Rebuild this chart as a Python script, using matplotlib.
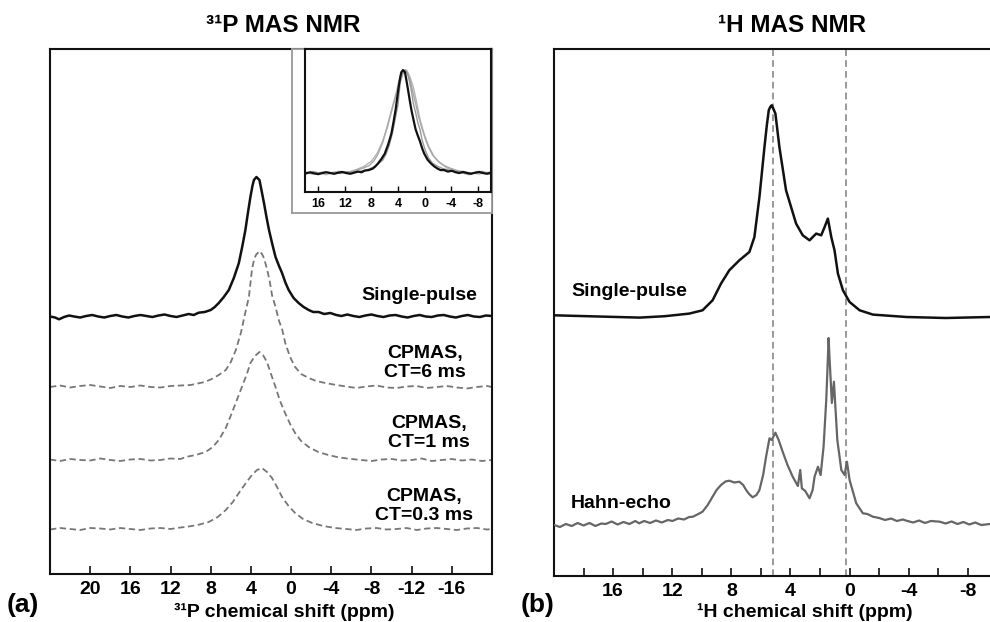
import matplotlib
matplotlib.use("Agg")
import matplotlib.pyplot as plt
import numpy as np

plt.rcParams['font.family'] = ['Liberation Sans', 'DejaVu Sans']
plt.rcParams['font.weight'] = 'bold'

# ---------------- data ----------------
# Panel (a): 31P spectra, (ppm, intensity above own baseline)
p31_single = [(24, -0.5), (23.5, -1.5), (23.1, -3.3), (22.6, -1), (22.1, 0.5), (21.6, -0.5), (21.0, -1.5),
              (20.4, 0), (19.8, 1), (19.2, -0.5), (18.6, -1.5), (18.0, 0), (17.4, 1), (16.8, -0.5),
              (16.2, -1.5), (15.6, 0), (15.0, 1), (14.4, 0), (13.8, -1), (13.2, 0.5), (12.6, 1.5),
              (12.0, 0), (11.4, -1), (10.8, 0.5), (10.2, 2), (9.7, 1), (9.2, 3.3), (8.6, 4), (8.0, 6),
              (7.6, 9), (7.2, 13), (6.7, 19), (6.2, 26), (5.7, 38), (5.2, 53), (4.85, 70), (4.55, 86),
              (4.3, 103), (4.05, 119), (3.85, 130), (3.7, 136), (3.45, 139), (3.15, 136), (2.95, 126),
              (2.7, 113), (2.45, 99), (2.2, 86), (1.85, 71), (1.55, 59), (1.2, 50), (0.9, 43), (0.55, 33),
              (0.24, 26), (-0.25, 18), (-0.75, 13), (-1.25, 9), (-1.75, 6), (-2.2, 4), (-2.74, 4),
              (-3.3, 2), (-3.9, 3), (-4.5, 1), (-5.0, 0), (-5.6, 1.5), (-6.2, 0), (-6.8, -1), (-7.4, 0.5),
              (-8.0, 1.5), (-8.6, 0), (-9.2, -1), (-9.8, 0.5), (-10.4, 1), (-11, -0.5), (-11.6, -1.5),
              (-12.2, 0), (-12.8, 1), (-13.4, -0.5), (-14.0, -1), (-14.6, 0.5), (-15.2, 1), (-15.8, -0.5),
              (-16.4, -1.5), (-17.0, 0), (-17.6, 1), (-18.2, -0.5), (-18.8, -1), (-19.4, 0.5), (-20, 0)]

p31_ct6 = [(24, 0), (23, 1.5), (22, -0.5), (21, 1), (20, 2), (19, 0.5), (18, -1), (17, 1), (16, 0),
           (15, 1.5), (14, 0), (13, -0.5), (12, 1), (11, 1.5), (10, 2), (9.2, 3.7), (8.6, 5), (7.9, 8),
           (7.2, 12), (6.5, 17), (6.0, 25), (5.5, 37), (5.0, 54), (4.5, 77), (4.2, 90), (3.9, 117),
           (3.7, 127), (3.5, 132), (3.15, 136), (2.9, 133), (2.7, 129), (2.4, 118), (2.15, 107),
           (1.9, 92), (1.55, 80), (1.2, 66), (0.9, 58), (0.58, 44), (0.1, 30), (-0.4, 20), (-1.0, 13),
           (-1.75, 9), (-2.5, 6), (-3.4, 4), (-4.5, 2), (-5.5, 0.5), (-6.5, -1), (-7.5, 0.5), (-8.5, 1.5),
           (-9.5, -0.5), (-10.5, -1), (-11.5, 0.5), (-12.5, 1), (-13.5, -1), (-14.5, 0), (-15.5, 1),
           (-16.5, -0.5), (-17.5, -1.5), (-18.5, 0), (-19.5, 1), (-20, 0)]

p31_ct1 = [(24, 0.5), (23, -1), (22, 1), (21, 0), (20, -0.5), (19, 1.5), (18, 0), (17, -1), (16, 0.5),
           (15, 1), (14, -0.5), (13, 0), (12, 1.5), (11, 1), (10.5, 3), (9.5, 5), (8.5, 8), (7.8, 13),
           (7.2, 20), (6.5, 32), (5.9, 47), (5.4, 60), (4.9, 73), (4.4, 86), (4.05, 97), (3.6, 104),
           (3.15, 108), (2.8, 105), (2.4, 98), (2.0, 86), (1.55, 73), (1.1, 59), (0.6, 47), (0.1, 36),
           (-0.4, 27), (-1.0, 19), (-1.75, 13), (-2.7, 8), (-3.7, 5), (-4.8, 2.5), (-6, 1), (-7, 0),
           (-8, -1), (-9, 0.5), (-10, 1), (-11, -0.5), (-12, 0), (-13, 1.5), (-14, -1), (-15, 0),
           (-16, 1), (-17, -0.5), (-18, 0.5), (-19, -1), (-20, 0)]

p31_ct03 = [(24, -0.5), (23, 1), (22, 0), (21, -1), (20, 1), (19, 0.5), (18, -0.5), (17, 1), (16, 0),
            (15, -1), (14, 0.5), (13, 1), (12, 0), (11, 1.5), (10.5, 2), (9.3, 4), (8.2, 7), (7.3, 12),
            (6.5, 19), (5.8, 27), (5.2, 36), (4.5, 46), (3.9, 54), (3.4, 59), (2.9, 61), (2.4, 57),
            (1.9, 51), (1.4, 42), (0.9, 32), (0.25, 23), (-0.4, 16), (-1.2, 10), (-2.1, 6), (-3.2, 3),
            (-4.4, 1), (-5.5, 0), (-6.5, -1), (-7.5, 0.5), (-8.5, 1), (-9.5, -0.5), (-10.5, 0),
            (-11.5, 1), (-12.5, -1), (-13.5, 0.5), (-14.5, 1), (-15.5, 0), (-16.5, -1), (-17.5, 0.5),
            (-18.5, 1), (-19.5, -0.5), (-20, 0)]

p31_offsets = [258, 187, 114, 45]
p31_labels = ["Single-pulse", "CPMAS,\nCT=6 ms", "CPMAS,\nCT=1 ms", "CPMAS,\nCT=0.3 ms"]
p31_ticks = [20, 16, 12, 8, 4, 0, -4, -8, -12, -16]
p31_ticklabels = ["20", "16", "12", "8", "4", "0", "-4", "-8", "-12", "-16"]
inset_ticks = [16, 12, 8, 4, 0, -4, -8]
inset_ticklabels = ["16", "12", "8", "4", "0", "-4", "-8"]

# Panel (b): 1H spectra
h1_single = [(20, 1.7), (17, 0.5), (14.2, -0.6), (12.5, 0.8), (10.85, 3.4), (9.95, 6.7), (9.27, 16.7),
             (8.7, 33.4), (8.14, 46.7), (7.46, 56.7), (6.78, 65), (6.44, 80), (6.1, 120), (5.76, 170),
             (5.6, 191.7), (5.47, 206.7), (5.37, 210), (5.27, 211.7), (5.15, 208), (5.02, 203.4),
             (4.75, 170), (4.3, 126.7), (3.62, 93.4), (3.17, 81.7), (2.71, 76.7), (2.26, 83.4),
             (1.92, 81.7), (1.69, 90), (1.47, 98.4), (1.24, 80), (1.02, 66.7), (0.79, 43.4), (0.45, 26.7),
             (0.0, 15), (-0.68, 6.7), (-1.58, 2.4), (-3.85, 0), (-6.5, -1), (-9.5, 0)]

h1_hahn = [(20, -1), (19.6, -3), (19.2, 0), (18.8, -2), (18.4, 1), (18.0, -1.5), (17.6, 1), (17.2, -2),
           (16.8, 0.5), (16.5, 0), (16.1, 2.5), (15.7, -0.5), (15.3, 2), (14.9, 0), (14.5, 3), (14.24, 0.7),
           (13.9, 3), (13.5, 1), (13.1, 3.5), (12.7, 1.5), (12.3, 4), (11.98, 3), (11.6, 5.5), (11.2, 4.5),
           (10.85, 7), (10.6, 7.3), (10.3, 9.5), (9.95, 12.3), (9.6, 19), (9.27, 27.3), (9.0, 34),
           (8.7, 39), (8.4, 42.5), (8.14, 43.3), (7.8, 41.5), (7.46, 42.3), (7.2, 39), (7.0, 34),
           (6.8, 30), (6.56, 26.7), (6.3, 29), (6.1, 34), (5.85, 49), (5.65, 67.3), (5.42, 85.7),
           (5.27, 84), (5.02, 91.3), (4.8, 84), (4.53, 72.3), (4.2, 59), (3.85, 47.3), (3.5, 38),
           (3.34, 54), (3.23, 35.7), (3.0, 33), (2.71, 25.7), (2.5, 34), (2.37, 47.3), (2.14, 57.3),
           (1.96, 49), (1.76, 77.3), (1.58, 124), (1.5, 154), (1.42, 186), (1.35, 164), (1.2, 121),
           (1.06, 142.3), (0.83, 84), (0.56, 54), (0.34, 49), (0.18, 62.3), (0.0, 44), (-0.45, 20.7),
           (-0.9, 10.7), (-1.2, 10), (-1.58, 7.3), (-2.0, 6), (-2.4, 4), (-2.8, 5.5), (-3.2, 3),
           (-3.6, 4.5), (-3.85, 3.3), (-4.3, 1.5), (-4.7, 3.5), (-5.1, 1), (-5.5, 3), (-6.1, 2.3),
           (-6.5, 0.5), (-6.9, 2.5), (-7.3, 0), (-7.7, 2), (-8.1, -0.5), (-8.5, 1.5), (-8.9, -1), (-9.5, 0)]

h1_offsets = [259, 52]
h1_labels = ["Single-pulse", "Hahn-echo"]
h1_refs = [5.2, 0.25]
h1_major = [16, 12, 8, 4, 0, -4, -8]
h1_majorlabels = ["16", "12", "8", "4", "0", "-4", "-8"]
h1_minor = [18, 14, 10, 6, 2, -2, -6]

# ---------------- figure ----------------
W, H = 990, 622
fig = plt.figure(figsize=(W / 100, H / 100), dpi=100)

def fx(px):
    return px / W

def fy(py):
    return (H - py) / H

def rect(x0, y0, x1, y1):
    return [fx(x0), fy(y1), fx(x1) - fx(x0), fy(y0) - fy(y1)]

BLACK = '#111111'
GRAY = '#777777'

# Panel (a)
axa = fig.add_axes(rect(50, 49, 492, 574))
for s in axa.spines.values():
    s.set_linewidth(1.5)
    s.set_color(BLACK)
styles = [dict(color=BLACK, lw=1.8, ls='-'),
          dict(color=GRAY, lw=1.3, ls=(0, (3.5, 2))),
          dict(color=GRAY, lw=1.3, ls=(0, (3.5, 2))),
          dict(color=GRAY, lw=1.3, ls=(0, (3.5, 2)))]
for spec, off, st in zip([p31_single, p31_ct6, p31_ct1, p31_ct03], p31_offsets, styles):
    x, y = zip(*spec)
    axa.plot(x, np.array(y) + off, **st)
axa.set_xlim(24, -20)
axa.set_ylim(0, 525)
axa.set_yticks([])
axa.set_xticks(p31_ticks)
axa.set_xticklabels(p31_ticklabels, fontsize=14, fontweight='bold')
axa.tick_params(axis='x', direction='in', length=6, width=1.2, pad=5, color=BLACK)

# inset frame (gray)
axf = fig.add_axes(rect(292, 49, 492, 213))
axf.set_xticks([]); axf.set_yticks([])
for s in axf.spines.values():
    s.set_color('#999999'); s.set_linewidth(1.3)
axf.patch.set_facecolor('white')

axi = fig.add_axes(rect(305, 49, 491, 192))
for s in axi.spines.values():
    s.set_color(BLACK); s.set_linewidth(1.5)
for spec, col, lw, z in [(p31_ct03, '#b5b5b5', 1.0, 1), (p31_ct1, '#a8a8a8', 1.0, 1),
                         (p31_ct6, '#999999', 1.0, 2), (p31_single, BLACK, 1.6, 3)]:
    x, y = zip(*spec)
    y = np.array(y)
    axi.plot(np.array(x) - 0.2, y / y.max(), color=col, lw=lw, zorder=z)
axi.set_xlim(18, -10)
axi.set_ylim(-0.184, 1.204)
axi.set_yticks([])
axi.set_xticks(inset_ticks)
axi.set_xticklabels(inset_ticklabels, fontsize=9, fontweight='bold')
axi.tick_params(axis='x', direction='in', length=4, width=1, pad=4)

# Panel (b)
axb = fig.add_axes(rect(554, 49, 990, 576))
for s in axb.spines.values():
    s.set_linewidth(1.5)
    s.set_color(BLACK)
axb.spines['right'].set_visible(False)
for xv in h1_refs:
    axb.axvline(xv, color='#888888', lw=1.2, ls=(0, (4, 2.5)), zorder=1)
x, y = zip(*h1_single)
axb.plot(x, np.array(y) + h1_offsets[0], color=BLACK, lw=1.8, zorder=3)
x, y = zip(*h1_hahn)
axb.plot(x, np.array(y) + h1_offsets[1], color='#666666', lw=1.6, zorder=3)
axb.set_xlim(20, -9.5)
axb.set_ylim(0, 527)
axb.set_yticks([])
axb.set_xticks(h1_major)
axb.set_xticklabels(h1_majorlabels, fontsize=14, fontweight='bold')
axb.set_xticks(h1_minor, minor=True)
axb.tick_params(axis='x', which='both', direction='in', length=6, width=1.2, pad=5, color=BLACK)

# Texts
fig.text(fx(283), fy(26), "³¹P MAS NMR", ha='center', va='center', fontsize=17.5, fontweight='bold')
fig.text(fx(792), fy(26), "¹H MAS NMR", ha='center', va='center', fontsize=17.5, fontweight='bold')
fig.text(fx(284), fy(612), "³¹P chemical shift (ppm)", ha='center', va='center', fontsize=14, fontweight='bold')
fig.text(fx(805), fy(612), "¹H chemical shift (ppm)", ha='center', va='center', fontsize=14, fontweight='bold')
fig.text(fx(23), fy(605), "(a)", ha='center', va='center', fontsize=19, fontweight='bold')
fig.text(fx(538), fy(605), "(b)", ha='center', va='center', fontsize=19, fontweight='bold')

fig.text(fx(477), fy(295), p31_labels[0], ha='right', va='center', fontsize=14, fontweight='bold')
for lab, (cx, cy) in zip(p31_labels[1:], [(425, 363), (429, 433), (424, 506)]):
    fig.text(fx(cx), fy(cy), lab, ha='center', va='center', multialignment='center',
             fontsize=14, fontweight='bold', linespacing=1.1)
fig.text(fx(571), fy(292), h1_labels[0], ha='left', va='center', fontsize=14, fontweight='bold')
fig.text(fx(571), fy(503), h1_labels[1], ha='left', va='center', fontsize=14, fontweight='bold')

fig.savefig("out.png", dpi=100)
